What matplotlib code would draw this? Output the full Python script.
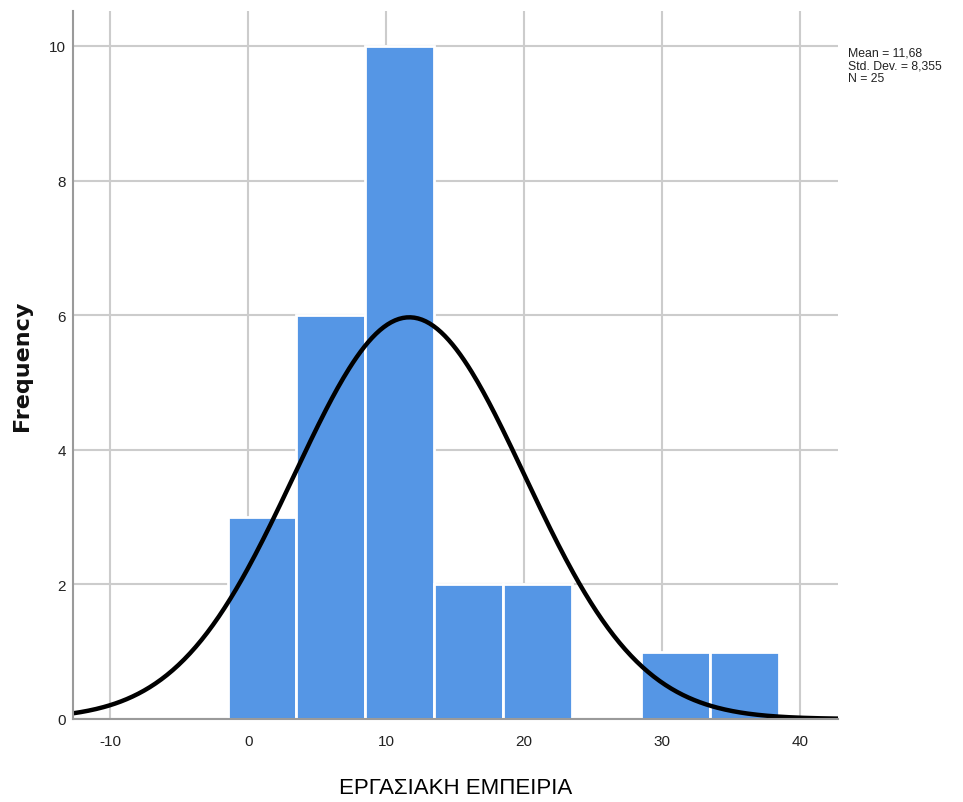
import numpy as np
import matplotlib
matplotlib.use("Agg")
import matplotlib.pyplot as plt

# histogram of years of work experience
bin_edges = [-1.5, 3.5, 8.5, 13.5, 18.5, 23.5, 28.5, 33.5, 38.5]
counts = [3, 6, 10, 2, 2, 0, 1, 1]
mean = 11.68
std_dev = 8.355
n_cases = 25

x_ticks = [-10, 0, 10, 20, 30, 40]
y_ticks = [0, 2, 4, 6, 8, 10]

bar_color = "#5596e5"
grid_color = "#cccccc"
axis_color = "#9a9a9a"

plt.rcParams["font.family"] = ["Liberation Sans", "DejaVu Sans"]
plt.rcParams["axes.unicode_minus"] = False

fig = plt.figure(figsize=(9.63, 8.03), dpi=100)
ax = fig.add_axes([73 / 963, 83 / 803, (838 - 73) / 963, (720 - 12) / 803])

xmin, xmax = -12.7, 42.75
ymax = 10.52
ax.set_xlim(xmin, xmax)
ax.set_ylim(0, ymax)

# grid first so bars sit on top
ax.set_axisbelow(True)
for xv in x_ticks:
    ax.axvline(xv, color=grid_color, lw=1.5, zorder=0)
for yv in y_ticks:
    ax.axhline(yv, color=grid_color, lw=1.5, zorder=0)

widths = np.diff(bin_edges)
ax.bar(bin_edges[:-1], counts, width=widths, align="edge",
       color=bar_color, edgecolor="white", linewidth=2, zorder=2)

# fitted normal curve scaled to counts
bw = widths[0]
xs = np.linspace(xmin, xmax, 400)
ys = n_cases * bw * np.exp(-0.5 * ((xs - mean) / std_dev) ** 2) / (std_dev * np.sqrt(2 * np.pi))
ax.plot(xs, ys, color="black", lw=3.2, zorder=3, solid_capstyle="butt")

for side in ["top", "right"]:
    ax.spines[side].set_visible(False)
for side in ["left", "bottom"]:
    ax.spines[side].set_color(axis_color)
    ax.spines[side].set_linewidth(1.5)
    ax.spines[side].set_zorder(4)

ax.set_xticks(x_ticks)
ax.set_yticks(y_ticks)
ax.tick_params(axis="both", length=0, labelsize=11, colors="#222222")
ax.tick_params(axis="x", pad=11)
ax.tick_params(axis="y", pad=5)

ax.set_xlabel("ΕΡΓΑΣΙΑΚΗ ΕΜΠΕΙΡΙΑ", fontsize=16, color="black", labelpad=21)
ax.set_ylabel("Frequency", fontsize=16, fontweight="bold", family="DejaVu Sans",
              color="#111111", labelpad=12)

stats_text = f"Mean = {mean:.2f}\nStd. Dev. = {std_dev:.3f}\nN = {n_cases}".replace(".", ",")
stats_text = stats_text.replace("Std, Dev,", "Std. Dev.")
fig.text(848 / 963, 1 - 48 / 803, stats_text, fontsize=8.8, va="top", ha="left",
         linespacing=1.05, color="#222222")

fig.savefig("out.png", dpi=100)
